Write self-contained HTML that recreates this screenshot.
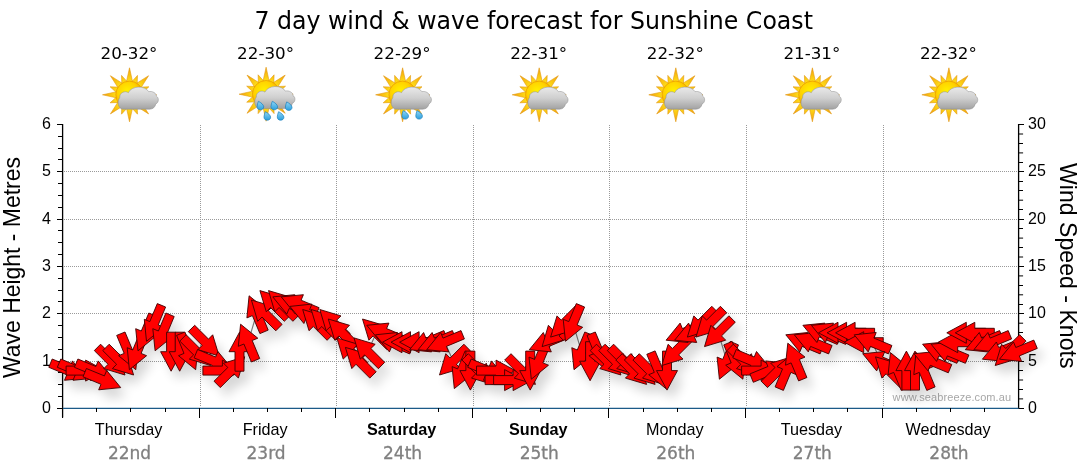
<!DOCTYPE html>
<html><head><meta charset="utf-8"><title>7 day wind &amp; wave forecast for Sunshine Coast</title>
<style>html,body{margin:0;padding:0;background:#fff}svg{display:block}text{font-family:"Liberation Sans",sans-serif;fill:#000}.tah{font-family:"DejaVu Sans Condensed","DejaVu Sans","Liberation Sans",sans-serif}.ver{font-family:"DejaVu Sans","Liberation Sans",sans-serif}</style></head><body>
<svg width="1080" height="475" viewBox="0 0 1080 475">
<defs>
<filter id="sh" x="-5%" y="-20%" width="110%" height="150%"><feGaussianBlur in="SourceAlpha" stdDeviation="5.5"/><feOffset dx="6" dy="9"/><feComponentTransfer><feFuncA type="linear" slope="0.165"/></feComponentTransfer></filter>
<radialGradient id="sun" cx="0.42" cy="0.38" r="0.65"><stop offset="0" stop-color="#fff200"/><stop offset="0.55" stop-color="#ffd200"/><stop offset="1" stop-color="#f39a00"/></radialGradient>
<radialGradient id="ray" gradientUnits="userSpaceOnUse" cx="0" cy="0" r="27"><stop offset="0.45" stop-color="#ffe21a"/><stop offset="0.8" stop-color="#f8b90e"/><stop offset="1" stop-color="#ee9410"/></radialGradient>
<linearGradient id="cl" x1="0" y1="0" x2="0" y2="1"><stop offset="0" stop-color="#e9e9e9"/><stop offset="0.5" stop-color="#cfcfcf"/><stop offset="1" stop-color="#a2a2a2"/></linearGradient>
<linearGradient id="dr" x1="0" y1="0" x2="0" y2="1"><stop offset="0" stop-color="#8fd6f7"/><stop offset="1" stop-color="#2c9fdc"/></linearGradient>
<g id="suncloud">
<path d="M-3.4,-11.5L0.0,-27.0L3.4,-11.5ZM1.2,-11.9L8.0,-19.4L7.6,-9.3ZM5.7,-10.6L19.1,-19.1L10.6,-5.7ZM9.3,-7.6L19.4,-8.0L11.9,-1.2ZM11.5,-3.4L27.0,0.0L11.5,3.4ZM11.9,1.2L19.4,8.0L9.3,7.6ZM10.6,5.7L19.1,19.1L5.7,10.6ZM7.6,9.3L8.0,19.4L1.2,11.9ZM3.4,11.5L0.0,27.0L-3.4,11.5ZM-1.2,11.9L-8.0,19.4L-7.6,9.3ZM-5.7,10.6L-19.1,19.1L-10.6,5.7ZM-9.3,7.6L-19.4,8.0L-11.9,1.2ZM-11.5,3.4L-27.0,0.0L-11.5,-3.4ZM-11.9,-1.2L-19.4,-8.0L-9.3,-7.6ZM-10.6,-5.7L-19.1,-19.1L-5.7,-10.6ZM-7.6,-9.3L-8.0,-19.4L-1.2,-11.9Z" fill="url(#ray)" stroke="#e39a12" stroke-width="0.6" stroke-linejoin="round"/>
<circle cx="0" cy="0" r="13.7" fill="url(#sun)" stroke="#e99a00" stroke-width="0.7"/>
<path id="cloudp" transform="translate(-0.3,-0.6)" d="M-6.5,15 C-11,14.5 -12.5,7 -9.5,3.5 C-10,-1.5 -4,-4 -0.8,-1.5 C2,-8.5 16,-9 19.5,-2.5 C23,-3.5 27.5,-1 27.2,2 C30,3.5 29.8,8.5 26.5,9.8 C26,13 23.5,15 20.5,15 Z" fill="url(#cl)" stroke="#8d8d8d" stroke-width="0.5"/>
</g>
<path id="drop" d="M-2,-4 C0.6,-2.8 3.3,-0.4 3.3,1.5 C3.3,3.4 1.8,4.5 0,4.5 C-2,4.5 -3.4,3.2 -3.3,1.2 C-3.2,-0.5 -2.7,-2.3 -2,-4Z" fill="url(#dr)" stroke="#1a7fbd" stroke-width="0.7"/>
</defs>
<rect width="1080" height="475" fill="#fff"/>
<text class="tah" x="254.4" y="29.3" font-size="25.5" textLength="558.5" lengthAdjust="spacingAndGlyphs">7 day wind &amp; wave forecast for Sunshine Coast</text>
<text class="ver" x="100.5" y="59" font-size="15.8" textLength="57" lengthAdjust="spacingAndGlyphs">20-32°</text>
<use href="#suncloud" x="129.5" y="94.8"/>
<text class="ver" x="237.1" y="59" font-size="15.8" textLength="57" lengthAdjust="spacingAndGlyphs">22-30°</text>
<use href="#suncloud" x="266.1" y="94.2"/>
<use href="#drop" x="260.4" y="105.3"/>
<use href="#drop" x="274.3" y="105.3"/>
<use href="#drop" x="288.7" y="105.9"/>
<use href="#drop" x="267.3" y="115.7"/>
<use href="#drop" x="280.6" y="115.7"/>
<text class="ver" x="373.6" y="59" font-size="15.8" textLength="57" lengthAdjust="spacingAndGlyphs">22-29°</text>
<use href="#suncloud" x="402.6" y="94.8"/>
<use href="#drop" x="405.2" y="114.6"/>
<use href="#drop" x="419.1" y="114.6"/>
<text class="ver" x="510.2" y="59" font-size="15.8" textLength="57" lengthAdjust="spacingAndGlyphs">22-31°</text>
<use href="#suncloud" x="539.2" y="94.8"/>
<text class="ver" x="646.8" y="59" font-size="15.8" textLength="57" lengthAdjust="spacingAndGlyphs">22-32°</text>
<use href="#suncloud" x="675.8" y="94.8"/>
<text class="ver" x="783.4" y="59" font-size="15.8" textLength="57" lengthAdjust="spacingAndGlyphs">21-31°</text>
<use href="#suncloud" x="812.4" y="94.8"/>
<text class="ver" x="919.9" y="59" font-size="15.8" textLength="57" lengthAdjust="spacingAndGlyphs">22-32°</text>
<use href="#suncloud" x="948.9" y="94.8"/>
<path d="M63.6,361.5H1016.6M63.6,313.5H1016.6M63.6,266.5H1016.6M63.6,219.5H1016.6M63.6,171.5H1016.6M200.5,124.5V407.4M336.5,124.5V407.4M473.5,124.5V407.4M609.5,124.5V407.4M746.5,124.5V407.4M883.5,124.5V407.4" stroke="#9a9a9a" stroke-width="1" stroke-dasharray="1,1" fill="none" shape-rendering="crispEdges"/>
<path d="M62.6,124.0V417.6" stroke="#000" stroke-width="1.3" fill="none"/>
<path d="M1018.6,124.0V408.9" stroke="#000" stroke-width="1.3" fill="none"/>
<path d="M56.6,408.5H62.6M58.1,396.5H62.6M58.1,384.5H62.6M58.1,372.5H62.6M56.6,361.5H62.6M58.1,349.5H62.6M58.1,337.5H62.6M58.1,325.5H62.6M56.6,313.5H62.6M58.1,301.5H62.6M58.1,290.5H62.6M58.1,278.5H62.6M56.6,266.5H62.6M58.1,254.5H62.6M58.1,242.5H62.6M58.1,230.5H62.6M56.6,219.5H62.6M58.1,207.5H62.6M58.1,195.5H62.6M58.1,183.5H62.6M56.6,171.5H62.6M58.1,159.5H62.6M58.1,148.5H62.6M58.1,136.5H62.6M56.6,124.5H62.6" stroke="#000" stroke-width="1" fill="none" shape-rendering="crispEdges"/>
<path d="M1018.6,408.5H1023.9M1018.6,389.5H1023.1M1018.6,370.5H1023.1M1018.6,361.5H1023.9M1018.6,351.5H1023.1M1018.6,332.5H1023.1M1018.6,313.5H1023.9M1018.6,304.5H1023.1M1018.6,285.5H1023.1M1018.6,266.5H1023.9M1018.6,247.5H1023.1M1018.6,228.5H1023.1M1018.6,219.5H1023.9M1018.6,209.5H1023.1M1018.6,190.5H1023.1M1018.6,181.5H1023.1M1018.6,171.5H1023.9M1018.6,162.5H1023.1M1018.6,143.5H1023.1M1018.6,124.5H1023.9" stroke="#000" stroke-width="1" fill="none" shape-rendering="crispEdges"/>
<path d="M1018.6,398.9H1023.1M1018.6,380.0H1023.1M1018.6,342.2H1023.1M1018.6,323.2H1023.1M1018.6,294.8H1023.1M1018.6,275.9H1023.1M1018.6,257.0H1023.1M1018.6,238.1H1023.1M1018.6,200.2H1023.1M1018.6,152.9H1023.1M1018.6,134.0H1023.1" stroke="#000" stroke-width="1" fill="none"/>
<path d="M62.6,408.4H1018.6" stroke="#1b5a88" stroke-width="1.25" fill="none"/>
<path d="M62.5,408.4V417.6M96.5,408.4V412.4M130.5,408.4V412.4M165.5,408.4V412.4M199.5,408.4V417.6M233.5,408.4V412.4M267.5,408.4V412.4M301.5,408.4V412.4M335.5,408.4V417.6M369.5,408.4V412.4M404.5,408.4V412.4M438.5,408.4V412.4M472.5,408.4V417.6M506.5,408.4V412.4M540.5,408.4V412.4M574.5,408.4V412.4M608.5,408.4V417.6M643.5,408.4V412.4M677.5,408.4V412.4M711.5,408.4V412.4M745.5,408.4V417.6M779.5,408.4V412.4M813.5,408.4V412.4M847.5,408.4V412.4M882.5,408.4V417.6M916.5,408.4V412.4M950.5,408.4V412.4M984.5,408.4V412.4" stroke="#000" stroke-width="1" fill="none" shape-rendering="crispEdges"/>
<text x="51" y="413.0" font-size="16" text-anchor="end">0</text>
<text x="51" y="365.7" font-size="16" text-anchor="end">1</text>
<text x="51" y="318.4" font-size="16" text-anchor="end">2</text>
<text x="51" y="271.1" font-size="16" text-anchor="end">3</text>
<text x="51" y="223.7" font-size="16" text-anchor="end">4</text>
<text x="51" y="176.4" font-size="16" text-anchor="end">5</text>
<text x="51" y="129.1" font-size="16" text-anchor="end">6</text>
<text x="1028" y="413.0" font-size="16">0</text>
<text x="1028" y="365.7" font-size="16">5</text>
<text x="1028" y="318.4" font-size="16">10</text>
<text x="1028" y="271.1" font-size="16">15</text>
<text x="1028" y="223.7" font-size="16">20</text>
<text x="1028" y="176.4" font-size="16">25</text>
<text x="1028" y="129.1" font-size="16">30</text>
<text transform="translate(20.2,378) rotate(-90)" font-size="24" textLength="221" lengthAdjust="spacingAndGlyphs">Wave Height - Metres</text>
<text transform="translate(1059.6,163) rotate(90)" font-size="24" textLength="205.5" lengthAdjust="spacingAndGlyphs">Wind Speed - Knots</text>
<text x="128.6" y="435.3" font-size="16.2" text-anchor="middle">Thursday</text>
<text class="ver" x="129.5" y="459.1" font-size="17" text-anchor="middle" style="fill:#808080;stroke:#808080;stroke-width:0.3">22nd</text>
<text x="265.2" y="435.3" font-size="16.2" text-anchor="middle">Friday</text>
<text class="ver" x="266.1" y="459.1" font-size="17" text-anchor="middle" style="fill:#808080;stroke:#808080;stroke-width:0.3">23rd</text>
<text x="401.7" y="435.3" font-size="16.2" text-anchor="middle" font-weight="bold">Saturday</text>
<text class="ver" x="402.6" y="459.1" font-size="17" text-anchor="middle" style="fill:#808080;stroke:#808080;stroke-width:0.3">24th</text>
<text x="538.3" y="435.3" font-size="16.2" text-anchor="middle" font-weight="bold">Sunday</text>
<text class="ver" x="539.2" y="459.1" font-size="17" text-anchor="middle" style="fill:#808080;stroke:#808080;stroke-width:0.3">25th</text>
<text x="674.9" y="435.3" font-size="16.2" text-anchor="middle">Monday</text>
<text class="ver" x="675.8" y="459.1" font-size="17" text-anchor="middle" style="fill:#808080;stroke:#808080;stroke-width:0.3">26th</text>
<text x="811.4" y="435.3" font-size="16.2" text-anchor="middle">Tuesday</text>
<text class="ver" x="812.3" y="459.1" font-size="17" text-anchor="middle" style="fill:#808080;stroke:#808080;stroke-width:0.3">27th</text>
<text x="948.0" y="435.3" font-size="16.2" text-anchor="middle">Wednesday</text>
<text class="ver" x="948.9" y="459.1" font-size="17" text-anchor="middle" style="fill:#808080;stroke:#808080;stroke-width:0.3">28th</text>
<text x="892.6" y="400.6" font-size="11" textLength="118.5" lengthAdjust="spacing" style="fill:#a8a8a8">www.seabreeze.com.au</text>
<polyline points="68.5,370.6 77.0,370.6 85.6,370.6 94.2,370.6 102.7,380.1 111.2,361.2 119.8,361.2 128.4,351.7 136.9,351.7 145.4,332.8 154.0,323.3 162.6,332.8 171.1,351.7 179.7,351.7 188.2,351.7 196.8,351.7 205.3,342.2 213.9,361.2 222.4,370.6 231.0,370.6 239.5,351.7 248.1,342.2 256.6,313.8 265.1,313.8 273.7,304.4 282.2,304.4 290.8,304.4 299.4,304.4 307.9,313.8 316.5,323.3 325.0,323.3 333.6,323.3 342.1,332.8 350.7,351.7 359.2,361.2 367.8,351.7 376.3,332.8 384.9,332.8 393.4,342.2 402.0,342.2 410.5,342.2 419.1,342.2 427.6,342.2 436.2,342.2 444.7,342.2 453.3,361.2 461.8,370.6 470.4,370.6 478.9,370.6 487.5,370.6 496.0,370.6 504.6,380.1 513.1,380.1 521.7,370.6 530.2,370.6 538.8,361.2 547.3,342.2 555.9,332.8 564.4,323.3 573.0,323.3 581.5,351.7 590.1,361.2 598.6,351.7 607.2,361.2 615.7,361.2 624.2,361.2 632.8,370.6 641.4,370.6 649.9,370.6 658.5,370.6 667.0,370.6 675.6,351.7 684.1,332.8 692.7,332.8 701.2,323.3 709.8,323.3 718.3,332.8 726.9,361.2 735.4,361.2 744.0,361.2 752.5,361.2 761.1,370.6 769.6,370.6 778.2,370.6 786.7,370.6 795.3,361.2 803.8,342.2 812.4,342.2 820.9,332.8 829.5,332.8 838.0,332.8 846.6,332.8 855.1,332.8 863.7,342.2 872.2,342.2 880.8,361.2 889.3,370.6 897.9,370.6 906.4,370.6 915.0,370.6 923.5,370.6 932.1,361.2 940.6,351.7 949.2,351.7 957.7,342.2 966.3,332.8 974.8,332.8 983.4,342.2 991.9,342.2 1000.5,351.7 1009.0,351.7 1017.6,351.7" fill="none" stroke="#7c7c7c" stroke-width="1.15"/>
<g filter="url(#sh)" fill="#000"><polygon points="52.2,359.0 70.2,366.5 72.5,360.9 86.5,378.1 64.5,380.3 66.8,374.8 48.8,367.3"/><polygon points="60.8,359.0 78.8,366.5 81.1,360.9 95.1,378.1 73.0,380.3 75.3,374.8 57.3,367.3"/><polygon points="66.1,366.1 85.6,366.1 85.6,360.1 105.1,370.6 85.6,381.1 85.6,375.1 66.1,375.1"/><polygon points="77.9,359.0 95.9,366.5 98.2,360.9 112.2,378.1 90.1,380.3 92.4,374.8 74.4,367.3"/><polygon points="86.4,368.5 104.4,375.9 106.7,370.4 120.7,387.6 98.7,389.8 101.0,384.3 83.0,376.8"/><polygon points="100.6,344.2 114.4,358.0 118.7,353.7 125.0,375.0 103.8,368.6 108.1,364.3 94.3,350.6"/><polygon points="109.2,344.2 123.0,358.0 127.2,353.7 133.6,375.0 112.4,368.6 116.6,364.3 102.8,350.6"/><polygon points="125.0,332.0 132.5,350.0 138.1,347.7 135.8,369.7 118.6,355.7 124.2,353.4 116.7,335.4"/><polygon points="148.5,335.4 141.1,353.4 146.6,355.7 129.4,369.7 127.2,347.7 132.7,350.0 140.2,332.0"/><polygon points="157.1,316.5 149.6,334.5 155.2,336.8 138.0,350.8 135.7,328.7 141.3,331.0 148.8,313.0"/><polygon points="165.6,307.0 158.2,325.0 163.7,327.3 146.5,341.3 144.3,319.3 149.8,321.6 157.3,303.6"/><polygon points="174.2,316.5 166.7,334.5 172.3,336.8 155.1,350.8 152.8,328.7 158.4,331.0 165.9,313.0"/><polygon points="175.6,332.2 175.6,351.7 181.6,351.7 171.1,371.2 160.6,351.7 166.6,351.7 166.6,332.2"/><polygon points="184.2,332.2 184.2,351.7 190.2,351.7 179.7,371.2 169.2,351.7 175.2,351.7 175.2,332.2"/><polygon points="184.9,332.0 192.4,350.0 197.9,347.7 195.7,369.7 178.5,355.7 184.0,353.4 176.6,335.4"/><polygon points="186.1,334.7 199.9,348.5 204.2,344.3 210.5,365.5 189.3,359.1 193.6,354.9 179.8,341.1"/><polygon points="194.7,325.3 208.5,339.1 212.7,334.8 219.1,356.0 197.9,349.7 202.1,345.4 188.3,331.6"/><polygon points="197.6,349.5 215.6,357.0 217.9,351.5 231.9,368.6 209.8,370.9 212.1,365.3 194.1,357.9"/><polygon points="202.9,366.1 222.4,366.1 222.4,360.1 241.9,370.6 222.4,381.1 222.4,375.1 202.9,375.1"/><polygon points="214.0,381.2 227.8,367.5 223.5,363.2 244.7,356.8 238.4,378.1 234.1,373.8 220.3,387.6"/><polygon points="235.0,371.2 235.0,351.7 229.0,351.7 239.5,332.2 250.0,351.7 244.0,351.7 244.0,371.2"/><polygon points="251.4,362.0 243.9,344.0 238.3,346.3 240.6,324.2 257.8,338.2 252.2,340.5 259.7,358.5"/><polygon points="259.9,333.6 252.4,315.6 246.9,317.9 249.1,295.8 266.3,309.8 260.8,312.1 268.2,330.1"/><polygon points="275.8,330.8 262.0,317.0 257.7,321.3 251.4,300.0 272.6,306.4 268.3,310.7 282.1,324.4"/><polygon points="284.3,321.3 270.5,307.5 266.3,311.8 259.9,290.6 281.1,296.9 276.9,301.2 290.7,315.0"/><polygon points="292.9,321.3 279.1,307.5 274.8,311.8 268.5,290.6 289.7,296.9 285.4,301.2 299.2,315.0"/><polygon points="307.1,316.0 289.1,308.5 286.8,314.1 272.8,296.9 294.8,294.7 292.5,300.2 310.5,307.7"/><polygon points="315.6,316.0 297.6,308.5 295.3,314.1 281.3,296.9 303.4,294.7 301.1,300.2 319.1,307.7"/><polygon points="324.2,325.5 306.2,318.0 303.9,323.5 289.9,306.4 311.9,304.1 309.6,309.7 327.6,317.1"/><polygon points="327.1,340.3 313.3,326.5 309.0,330.7 302.7,309.5 323.9,315.9 319.6,320.1 333.4,333.9"/><polygon points="335.6,340.3 321.8,326.5 317.6,330.7 311.2,309.5 332.4,315.9 328.2,320.1 342.0,333.9"/><polygon points="344.2,340.3 330.4,326.5 326.1,330.7 319.8,309.5 341.0,315.9 336.7,320.1 350.5,333.9"/><polygon points="352.7,349.7 338.9,335.9 334.7,340.2 328.3,319.0 349.5,325.3 345.3,329.6 359.1,343.4"/><polygon points="361.3,368.7 347.5,354.9 343.2,359.1 336.9,337.9 358.1,344.3 353.8,348.5 367.6,362.3"/><polygon points="369.8,378.1 356.0,364.3 351.8,368.6 345.4,347.4 366.6,353.7 362.4,358.0 376.2,371.8"/><polygon points="378.4,368.7 364.6,354.9 360.3,359.1 354.0,337.9 375.2,344.3 370.9,348.5 384.7,362.3"/><polygon points="386.9,349.7 373.1,335.9 368.9,340.2 362.5,319.0 383.7,325.3 379.5,329.6 393.3,343.4"/><polygon points="401.1,344.4 383.1,336.9 380.8,342.5 366.8,325.3 388.9,323.1 386.6,328.6 404.6,336.1"/><polygon points="409.7,353.9 391.7,346.4 389.4,351.9 375.4,334.8 397.4,332.5 395.1,338.1 413.1,345.5"/><polygon points="421.5,346.7 402.0,346.7 402.0,352.7 382.5,342.2 402.0,331.7 402.0,337.7 421.5,337.7"/><polygon points="430.0,346.7 410.5,346.7 410.5,352.7 391.0,342.2 410.5,331.7 410.5,337.7 430.0,337.7"/><polygon points="438.6,346.7 419.1,346.7 419.1,352.7 399.6,342.2 419.1,331.7 419.1,337.7 438.6,337.7"/><polygon points="447.3,338.9 429.3,346.4 431.6,351.9 409.6,349.7 423.6,332.5 425.9,338.1 443.9,330.6"/><polygon points="455.9,338.9 437.9,346.4 440.2,351.9 418.1,349.7 432.1,332.5 434.4,338.1 452.4,330.6"/><polygon points="464.4,338.9 446.4,346.4 448.7,351.9 426.7,349.7 440.7,332.5 443.0,338.1 461.0,330.6"/><polygon points="470.2,350.6 456.4,364.3 460.7,368.6 439.5,375.0 445.8,353.7 450.1,358.0 463.9,344.2"/><polygon points="473.4,354.3 466.0,372.4 471.5,374.7 454.3,388.6 452.1,366.6 457.6,368.9 465.1,350.9"/><polygon points="474.9,351.1 474.9,370.6 480.9,370.6 470.4,390.1 459.9,370.6 465.9,370.6 465.9,351.1"/><polygon points="468.3,353.7 482.1,367.5 486.3,363.2 492.7,384.4 471.5,378.1 475.7,373.8 461.9,360.0"/><polygon points="471.2,359.0 489.2,366.5 491.5,360.9 505.5,378.1 483.4,380.3 485.7,374.8 467.7,367.3"/><polygon points="476.5,366.1 496.0,366.1 496.0,360.1 515.5,370.6 496.0,381.1 496.0,375.1 476.5,375.1"/><polygon points="485.1,375.6 504.6,375.6 504.6,369.6 524.0,380.1 504.6,390.6 504.6,384.6 485.1,384.6"/><polygon points="493.6,375.6 513.1,375.6 513.1,369.6 532.6,380.1 513.1,390.6 513.1,384.6 493.6,384.6"/><polygon points="511.0,353.7 524.8,367.5 529.1,363.2 535.4,384.4 514.2,378.1 518.5,373.8 504.7,360.0"/><polygon points="534.7,351.1 534.7,370.6 540.7,370.6 530.2,390.1 519.7,370.6 525.7,370.6 525.7,351.1"/><polygon points="550.4,344.9 542.9,362.9 548.5,365.2 531.3,379.2 529.0,357.1 534.6,359.4 542.1,341.4"/><polygon points="567.0,338.9 549.0,346.4 551.3,351.9 529.3,349.7 543.3,332.5 545.6,338.1 563.6,330.6"/><polygon points="572.8,322.2 559.0,335.9 563.3,340.2 542.1,346.6 548.4,325.3 552.7,329.6 566.5,315.8"/><polygon points="581.4,312.7 567.6,326.5 571.8,330.7 550.6,337.1 557.0,315.9 561.2,320.1 575.0,306.3"/><polygon points="584.6,307.0 577.1,325.0 582.7,327.3 565.5,341.3 563.2,319.3 568.8,321.6 576.3,303.6"/><polygon points="593.1,335.4 585.7,353.4 591.2,355.7 574.0,369.7 571.8,347.7 577.3,350.0 584.8,332.0"/><polygon points="594.6,341.7 594.6,361.2 600.6,361.2 590.1,380.7 579.6,361.2 585.6,361.2 585.6,341.7"/><polygon points="595.3,332.0 602.8,350.0 608.3,347.7 606.1,369.7 588.9,355.7 594.4,353.4 587.0,335.4"/><polygon points="596.5,344.2 610.3,358.0 614.6,353.7 620.9,375.0 599.7,368.6 604.0,364.3 590.2,350.6"/><polygon points="605.1,344.2 618.9,358.0 623.1,353.7 629.5,375.0 608.3,368.6 612.5,364.3 598.7,350.6"/><polygon points="613.6,344.2 627.4,358.0 631.7,353.7 638.0,375.0 616.8,368.6 621.1,364.3 607.3,350.6"/><polygon points="622.2,353.7 636.0,367.5 640.2,363.2 646.6,384.4 625.4,378.1 629.6,373.8 615.8,360.0"/><polygon points="630.7,353.7 644.5,367.5 648.8,363.2 655.1,384.4 633.9,378.1 638.2,373.8 624.4,360.0"/><polygon points="639.3,353.7 653.1,367.5 657.3,363.2 663.7,384.4 642.5,378.1 646.7,373.8 632.9,360.0"/><polygon points="655.1,350.9 662.6,368.9 668.2,366.6 665.9,388.6 648.7,374.7 654.3,372.4 646.8,354.3"/><polygon points="671.5,351.1 671.5,370.6 677.5,370.6 667.0,390.1 656.5,370.6 662.5,370.6 662.5,351.1"/><polygon points="692.5,341.1 678.7,354.9 683.0,359.1 661.8,365.5 668.1,344.3 672.4,348.5 686.2,334.7"/><polygon points="703.8,329.5 685.8,336.9 688.1,342.5 666.1,340.2 680.1,323.1 682.4,328.6 700.4,321.1"/><polygon points="712.4,329.5 694.4,336.9 696.7,342.5 674.6,340.2 688.6,323.1 690.9,328.6 708.9,321.1"/><polygon points="718.2,312.7 704.4,326.5 708.6,330.7 687.4,337.1 693.8,315.9 698.0,320.1 711.8,306.3"/><polygon points="726.7,312.7 712.9,326.5 717.2,330.7 696.0,337.1 702.3,315.9 706.6,320.1 720.4,306.3"/><polygon points="735.3,322.2 721.5,335.9 725.7,340.2 704.5,346.6 710.9,325.3 715.1,329.6 728.9,315.8"/><polygon points="738.5,344.9 731.0,362.9 736.6,365.2 719.4,379.2 717.1,357.1 722.7,359.4 730.2,341.4"/><polygon points="732.1,341.4 739.6,359.4 745.1,357.1 742.9,379.2 725.7,365.2 731.2,362.9 723.8,344.9"/><polygon points="733.3,344.2 747.1,358.0 751.4,353.7 757.7,375.0 736.5,368.6 740.8,364.3 727.0,350.6"/><polygon points="736.2,349.5 754.2,357.0 756.5,351.5 770.5,368.6 748.5,370.9 750.8,365.3 732.8,357.9"/><polygon points="741.6,366.1 761.1,366.1 761.1,360.1 780.6,370.6 761.1,381.1 761.1,375.1 741.6,375.1"/><polygon points="749.9,373.9 767.9,366.5 765.6,360.9 787.6,363.2 773.6,380.3 771.3,374.8 753.3,382.3"/><polygon points="761.2,381.2 775.0,367.5 770.7,363.2 791.9,356.8 785.6,378.1 781.3,373.8 767.5,387.6"/><polygon points="775.1,386.9 782.5,368.9 777.0,366.6 794.2,352.6 796.4,374.7 790.9,372.4 783.4,390.4"/><polygon points="798.6,380.9 791.1,362.9 785.5,365.2 787.8,343.2 805.0,357.1 799.4,359.4 806.9,377.5"/><polygon points="820.1,353.9 802.1,346.4 799.8,351.9 785.8,334.8 807.8,332.5 805.5,338.1 823.5,345.5"/><polygon points="828.6,353.9 810.6,346.4 808.3,351.9 794.3,334.8 816.4,332.5 814.1,338.1 832.1,345.5"/><polygon points="837.2,344.4 819.2,336.9 816.9,342.5 802.9,325.3 824.9,323.1 822.6,328.6 840.6,336.1"/><polygon points="845.7,344.4 827.7,336.9 825.4,342.5 811.4,325.3 833.5,323.1 831.2,328.6 849.2,336.1"/><polygon points="857.5,337.3 838.0,337.3 838.0,343.3 818.5,332.8 838.0,322.3 838.0,328.3 857.5,328.3"/><polygon points="866.1,337.3 846.6,337.3 846.6,343.3 827.1,332.8 846.6,322.3 846.6,328.3 866.1,328.3"/><polygon points="874.6,337.3 855.1,337.3 855.1,343.3 835.6,332.8 855.1,322.3 855.1,328.3 874.6,328.3"/><polygon points="883.2,346.7 863.7,346.7 863.7,352.7 844.2,342.2 863.7,331.7 863.7,337.7 883.2,337.7"/><polygon points="888.5,353.9 870.5,346.4 868.2,351.9 854.2,334.8 876.2,332.5 873.9,338.1 891.9,345.5"/><polygon points="897.0,372.8 879.0,365.3 876.7,370.9 862.7,353.7 884.8,351.5 882.5,357.0 900.5,364.5"/><polygon points="899.9,387.6 886.1,373.8 881.9,378.1 875.5,356.8 896.7,363.2 892.5,367.5 906.3,381.2"/><polygon points="901.2,390.4 893.7,372.4 888.1,374.7 890.4,352.6 907.6,366.6 902.0,368.9 909.5,386.9"/><polygon points="901.9,390.1 901.9,370.6 895.9,370.6 906.4,351.1 916.9,370.6 910.9,370.6 910.9,390.1"/><polygon points="910.5,390.1 910.5,370.6 904.5,370.6 915.0,351.1 925.5,370.6 919.5,370.6 919.5,390.1"/><polygon points="926.8,390.4 919.3,372.4 913.8,374.7 916.0,352.6 933.2,366.6 927.7,368.9 935.1,386.9"/><polygon points="948.3,372.8 930.3,365.3 928.0,370.9 914.0,353.7 936.1,351.5 933.8,357.0 951.8,364.5"/><polygon points="956.9,363.3 938.9,355.9 936.6,361.4 922.6,344.2 944.6,342.0 942.3,347.5 960.3,355.0"/><polygon points="965.4,363.3 947.4,355.9 945.1,361.4 931.1,344.2 953.2,342.0 950.9,347.5 968.9,355.0"/><polygon points="977.2,346.7 957.7,346.7 957.7,352.7 938.2,342.2 957.7,331.7 957.7,337.7 977.2,337.7"/><polygon points="985.8,337.3 966.3,337.3 966.3,343.3 946.8,332.8 966.3,322.3 966.3,328.3 985.8,328.3"/><polygon points="994.3,337.3 974.8,337.3 974.8,343.3 955.3,332.8 974.8,322.3 974.8,328.3 994.3,328.3"/><polygon points="1003.1,338.9 985.1,346.4 987.4,351.9 965.3,349.7 979.3,332.5 981.6,338.1 999.6,330.6"/><polygon points="1011.6,338.9 993.6,346.4 995.9,351.9 973.9,349.7 987.9,332.5 990.2,338.1 1008.2,330.6"/><polygon points="1020.2,348.4 1002.2,355.9 1004.5,361.4 982.4,359.2 996.4,342.0 998.7,347.5 1016.7,340.1"/><polygon points="1026.0,341.1 1012.2,354.9 1016.4,359.1 995.2,365.5 1001.6,344.3 1005.8,348.5 1019.6,334.7"/><polygon points="1037.3,348.4 1019.3,355.9 1021.6,361.4 999.5,359.2 1013.5,342.0 1015.8,347.5 1033.8,340.1"/></g>
<g fill="#ff0000" stroke="#400000" stroke-width="0.9" stroke-linejoin="miter"><polygon points="52.2,359.0 70.2,366.5 72.5,360.9 86.5,378.1 64.5,380.3 66.8,374.8 48.8,367.3"/><polygon points="60.8,359.0 78.8,366.5 81.1,360.9 95.1,378.1 73.0,380.3 75.3,374.8 57.3,367.3"/><polygon points="66.1,366.1 85.6,366.1 85.6,360.1 105.1,370.6 85.6,381.1 85.6,375.1 66.1,375.1"/><polygon points="77.9,359.0 95.9,366.5 98.2,360.9 112.2,378.1 90.1,380.3 92.4,374.8 74.4,367.3"/><polygon points="86.4,368.5 104.4,375.9 106.7,370.4 120.7,387.6 98.7,389.8 101.0,384.3 83.0,376.8"/><polygon points="100.6,344.2 114.4,358.0 118.7,353.7 125.0,375.0 103.8,368.6 108.1,364.3 94.3,350.6"/><polygon points="109.2,344.2 123.0,358.0 127.2,353.7 133.6,375.0 112.4,368.6 116.6,364.3 102.8,350.6"/><polygon points="125.0,332.0 132.5,350.0 138.1,347.7 135.8,369.7 118.6,355.7 124.2,353.4 116.7,335.4"/><polygon points="148.5,335.4 141.1,353.4 146.6,355.7 129.4,369.7 127.2,347.7 132.7,350.0 140.2,332.0"/><polygon points="157.1,316.5 149.6,334.5 155.2,336.8 138.0,350.8 135.7,328.7 141.3,331.0 148.8,313.0"/><polygon points="165.6,307.0 158.2,325.0 163.7,327.3 146.5,341.3 144.3,319.3 149.8,321.6 157.3,303.6"/><polygon points="174.2,316.5 166.7,334.5 172.3,336.8 155.1,350.8 152.8,328.7 158.4,331.0 165.9,313.0"/><polygon points="175.6,332.2 175.6,351.7 181.6,351.7 171.1,371.2 160.6,351.7 166.6,351.7 166.6,332.2"/><polygon points="184.2,332.2 184.2,351.7 190.2,351.7 179.7,371.2 169.2,351.7 175.2,351.7 175.2,332.2"/><polygon points="184.9,332.0 192.4,350.0 197.9,347.7 195.7,369.7 178.5,355.7 184.0,353.4 176.6,335.4"/><polygon points="186.1,334.7 199.9,348.5 204.2,344.3 210.5,365.5 189.3,359.1 193.6,354.9 179.8,341.1"/><polygon points="194.7,325.3 208.5,339.1 212.7,334.8 219.1,356.0 197.9,349.7 202.1,345.4 188.3,331.6"/><polygon points="197.6,349.5 215.6,357.0 217.9,351.5 231.9,368.6 209.8,370.9 212.1,365.3 194.1,357.9"/><polygon points="202.9,366.1 222.4,366.1 222.4,360.1 241.9,370.6 222.4,381.1 222.4,375.1 202.9,375.1"/><polygon points="214.0,381.2 227.8,367.5 223.5,363.2 244.7,356.8 238.4,378.1 234.1,373.8 220.3,387.6"/><polygon points="235.0,371.2 235.0,351.7 229.0,351.7 239.5,332.2 250.0,351.7 244.0,351.7 244.0,371.2"/><polygon points="251.4,362.0 243.9,344.0 238.3,346.3 240.6,324.2 257.8,338.2 252.2,340.5 259.7,358.5"/><polygon points="259.9,333.6 252.4,315.6 246.9,317.9 249.1,295.8 266.3,309.8 260.8,312.1 268.2,330.1"/><polygon points="275.8,330.8 262.0,317.0 257.7,321.3 251.4,300.0 272.6,306.4 268.3,310.7 282.1,324.4"/><polygon points="284.3,321.3 270.5,307.5 266.3,311.8 259.9,290.6 281.1,296.9 276.9,301.2 290.7,315.0"/><polygon points="292.9,321.3 279.1,307.5 274.8,311.8 268.5,290.6 289.7,296.9 285.4,301.2 299.2,315.0"/><polygon points="307.1,316.0 289.1,308.5 286.8,314.1 272.8,296.9 294.8,294.7 292.5,300.2 310.5,307.7"/><polygon points="315.6,316.0 297.6,308.5 295.3,314.1 281.3,296.9 303.4,294.7 301.1,300.2 319.1,307.7"/><polygon points="324.2,325.5 306.2,318.0 303.9,323.5 289.9,306.4 311.9,304.1 309.6,309.7 327.6,317.1"/><polygon points="327.1,340.3 313.3,326.5 309.0,330.7 302.7,309.5 323.9,315.9 319.6,320.1 333.4,333.9"/><polygon points="335.6,340.3 321.8,326.5 317.6,330.7 311.2,309.5 332.4,315.9 328.2,320.1 342.0,333.9"/><polygon points="344.2,340.3 330.4,326.5 326.1,330.7 319.8,309.5 341.0,315.9 336.7,320.1 350.5,333.9"/><polygon points="352.7,349.7 338.9,335.9 334.7,340.2 328.3,319.0 349.5,325.3 345.3,329.6 359.1,343.4"/><polygon points="361.3,368.7 347.5,354.9 343.2,359.1 336.9,337.9 358.1,344.3 353.8,348.5 367.6,362.3"/><polygon points="369.8,378.1 356.0,364.3 351.8,368.6 345.4,347.4 366.6,353.7 362.4,358.0 376.2,371.8"/><polygon points="378.4,368.7 364.6,354.9 360.3,359.1 354.0,337.9 375.2,344.3 370.9,348.5 384.7,362.3"/><polygon points="386.9,349.7 373.1,335.9 368.9,340.2 362.5,319.0 383.7,325.3 379.5,329.6 393.3,343.4"/><polygon points="401.1,344.4 383.1,336.9 380.8,342.5 366.8,325.3 388.9,323.1 386.6,328.6 404.6,336.1"/><polygon points="409.7,353.9 391.7,346.4 389.4,351.9 375.4,334.8 397.4,332.5 395.1,338.1 413.1,345.5"/><polygon points="421.5,346.7 402.0,346.7 402.0,352.7 382.5,342.2 402.0,331.7 402.0,337.7 421.5,337.7"/><polygon points="430.0,346.7 410.5,346.7 410.5,352.7 391.0,342.2 410.5,331.7 410.5,337.7 430.0,337.7"/><polygon points="438.6,346.7 419.1,346.7 419.1,352.7 399.6,342.2 419.1,331.7 419.1,337.7 438.6,337.7"/><polygon points="447.3,338.9 429.3,346.4 431.6,351.9 409.6,349.7 423.6,332.5 425.9,338.1 443.9,330.6"/><polygon points="455.9,338.9 437.9,346.4 440.2,351.9 418.1,349.7 432.1,332.5 434.4,338.1 452.4,330.6"/><polygon points="464.4,338.9 446.4,346.4 448.7,351.9 426.7,349.7 440.7,332.5 443.0,338.1 461.0,330.6"/><polygon points="470.2,350.6 456.4,364.3 460.7,368.6 439.5,375.0 445.8,353.7 450.1,358.0 463.9,344.2"/><polygon points="473.4,354.3 466.0,372.4 471.5,374.7 454.3,388.6 452.1,366.6 457.6,368.9 465.1,350.9"/><polygon points="474.9,351.1 474.9,370.6 480.9,370.6 470.4,390.1 459.9,370.6 465.9,370.6 465.9,351.1"/><polygon points="468.3,353.7 482.1,367.5 486.3,363.2 492.7,384.4 471.5,378.1 475.7,373.8 461.9,360.0"/><polygon points="471.2,359.0 489.2,366.5 491.5,360.9 505.5,378.1 483.4,380.3 485.7,374.8 467.7,367.3"/><polygon points="476.5,366.1 496.0,366.1 496.0,360.1 515.5,370.6 496.0,381.1 496.0,375.1 476.5,375.1"/><polygon points="485.1,375.6 504.6,375.6 504.6,369.6 524.0,380.1 504.6,390.6 504.6,384.6 485.1,384.6"/><polygon points="493.6,375.6 513.1,375.6 513.1,369.6 532.6,380.1 513.1,390.6 513.1,384.6 493.6,384.6"/><polygon points="511.0,353.7 524.8,367.5 529.1,363.2 535.4,384.4 514.2,378.1 518.5,373.8 504.7,360.0"/><polygon points="534.7,351.1 534.7,370.6 540.7,370.6 530.2,390.1 519.7,370.6 525.7,370.6 525.7,351.1"/><polygon points="550.4,344.9 542.9,362.9 548.5,365.2 531.3,379.2 529.0,357.1 534.6,359.4 542.1,341.4"/><polygon points="567.0,338.9 549.0,346.4 551.3,351.9 529.3,349.7 543.3,332.5 545.6,338.1 563.6,330.6"/><polygon points="572.8,322.2 559.0,335.9 563.3,340.2 542.1,346.6 548.4,325.3 552.7,329.6 566.5,315.8"/><polygon points="581.4,312.7 567.6,326.5 571.8,330.7 550.6,337.1 557.0,315.9 561.2,320.1 575.0,306.3"/><polygon points="584.6,307.0 577.1,325.0 582.7,327.3 565.5,341.3 563.2,319.3 568.8,321.6 576.3,303.6"/><polygon points="593.1,335.4 585.7,353.4 591.2,355.7 574.0,369.7 571.8,347.7 577.3,350.0 584.8,332.0"/><polygon points="594.6,341.7 594.6,361.2 600.6,361.2 590.1,380.7 579.6,361.2 585.6,361.2 585.6,341.7"/><polygon points="595.3,332.0 602.8,350.0 608.3,347.7 606.1,369.7 588.9,355.7 594.4,353.4 587.0,335.4"/><polygon points="596.5,344.2 610.3,358.0 614.6,353.7 620.9,375.0 599.7,368.6 604.0,364.3 590.2,350.6"/><polygon points="605.1,344.2 618.9,358.0 623.1,353.7 629.5,375.0 608.3,368.6 612.5,364.3 598.7,350.6"/><polygon points="613.6,344.2 627.4,358.0 631.7,353.7 638.0,375.0 616.8,368.6 621.1,364.3 607.3,350.6"/><polygon points="622.2,353.7 636.0,367.5 640.2,363.2 646.6,384.4 625.4,378.1 629.6,373.8 615.8,360.0"/><polygon points="630.7,353.7 644.5,367.5 648.8,363.2 655.1,384.4 633.9,378.1 638.2,373.8 624.4,360.0"/><polygon points="639.3,353.7 653.1,367.5 657.3,363.2 663.7,384.4 642.5,378.1 646.7,373.8 632.9,360.0"/><polygon points="655.1,350.9 662.6,368.9 668.2,366.6 665.9,388.6 648.7,374.7 654.3,372.4 646.8,354.3"/><polygon points="671.5,351.1 671.5,370.6 677.5,370.6 667.0,390.1 656.5,370.6 662.5,370.6 662.5,351.1"/><polygon points="692.5,341.1 678.7,354.9 683.0,359.1 661.8,365.5 668.1,344.3 672.4,348.5 686.2,334.7"/><polygon points="703.8,329.5 685.8,336.9 688.1,342.5 666.1,340.2 680.1,323.1 682.4,328.6 700.4,321.1"/><polygon points="712.4,329.5 694.4,336.9 696.7,342.5 674.6,340.2 688.6,323.1 690.9,328.6 708.9,321.1"/><polygon points="718.2,312.7 704.4,326.5 708.6,330.7 687.4,337.1 693.8,315.9 698.0,320.1 711.8,306.3"/><polygon points="726.7,312.7 712.9,326.5 717.2,330.7 696.0,337.1 702.3,315.9 706.6,320.1 720.4,306.3"/><polygon points="735.3,322.2 721.5,335.9 725.7,340.2 704.5,346.6 710.9,325.3 715.1,329.6 728.9,315.8"/><polygon points="738.5,344.9 731.0,362.9 736.6,365.2 719.4,379.2 717.1,357.1 722.7,359.4 730.2,341.4"/><polygon points="732.1,341.4 739.6,359.4 745.1,357.1 742.9,379.2 725.7,365.2 731.2,362.9 723.8,344.9"/><polygon points="733.3,344.2 747.1,358.0 751.4,353.7 757.7,375.0 736.5,368.6 740.8,364.3 727.0,350.6"/><polygon points="736.2,349.5 754.2,357.0 756.5,351.5 770.5,368.6 748.5,370.9 750.8,365.3 732.8,357.9"/><polygon points="741.6,366.1 761.1,366.1 761.1,360.1 780.6,370.6 761.1,381.1 761.1,375.1 741.6,375.1"/><polygon points="749.9,373.9 767.9,366.5 765.6,360.9 787.6,363.2 773.6,380.3 771.3,374.8 753.3,382.3"/><polygon points="761.2,381.2 775.0,367.5 770.7,363.2 791.9,356.8 785.6,378.1 781.3,373.8 767.5,387.6"/><polygon points="775.1,386.9 782.5,368.9 777.0,366.6 794.2,352.6 796.4,374.7 790.9,372.4 783.4,390.4"/><polygon points="798.6,380.9 791.1,362.9 785.5,365.2 787.8,343.2 805.0,357.1 799.4,359.4 806.9,377.5"/><polygon points="820.1,353.9 802.1,346.4 799.8,351.9 785.8,334.8 807.8,332.5 805.5,338.1 823.5,345.5"/><polygon points="828.6,353.9 810.6,346.4 808.3,351.9 794.3,334.8 816.4,332.5 814.1,338.1 832.1,345.5"/><polygon points="837.2,344.4 819.2,336.9 816.9,342.5 802.9,325.3 824.9,323.1 822.6,328.6 840.6,336.1"/><polygon points="845.7,344.4 827.7,336.9 825.4,342.5 811.4,325.3 833.5,323.1 831.2,328.6 849.2,336.1"/><polygon points="857.5,337.3 838.0,337.3 838.0,343.3 818.5,332.8 838.0,322.3 838.0,328.3 857.5,328.3"/><polygon points="866.1,337.3 846.6,337.3 846.6,343.3 827.1,332.8 846.6,322.3 846.6,328.3 866.1,328.3"/><polygon points="874.6,337.3 855.1,337.3 855.1,343.3 835.6,332.8 855.1,322.3 855.1,328.3 874.6,328.3"/><polygon points="883.2,346.7 863.7,346.7 863.7,352.7 844.2,342.2 863.7,331.7 863.7,337.7 883.2,337.7"/><polygon points="888.5,353.9 870.5,346.4 868.2,351.9 854.2,334.8 876.2,332.5 873.9,338.1 891.9,345.5"/><polygon points="897.0,372.8 879.0,365.3 876.7,370.9 862.7,353.7 884.8,351.5 882.5,357.0 900.5,364.5"/><polygon points="899.9,387.6 886.1,373.8 881.9,378.1 875.5,356.8 896.7,363.2 892.5,367.5 906.3,381.2"/><polygon points="901.2,390.4 893.7,372.4 888.1,374.7 890.4,352.6 907.6,366.6 902.0,368.9 909.5,386.9"/><polygon points="901.9,390.1 901.9,370.6 895.9,370.6 906.4,351.1 916.9,370.6 910.9,370.6 910.9,390.1"/><polygon points="910.5,390.1 910.5,370.6 904.5,370.6 915.0,351.1 925.5,370.6 919.5,370.6 919.5,390.1"/><polygon points="926.8,390.4 919.3,372.4 913.8,374.7 916.0,352.6 933.2,366.6 927.7,368.9 935.1,386.9"/><polygon points="948.3,372.8 930.3,365.3 928.0,370.9 914.0,353.7 936.1,351.5 933.8,357.0 951.8,364.5"/><polygon points="956.9,363.3 938.9,355.9 936.6,361.4 922.6,344.2 944.6,342.0 942.3,347.5 960.3,355.0"/><polygon points="965.4,363.3 947.4,355.9 945.1,361.4 931.1,344.2 953.2,342.0 950.9,347.5 968.9,355.0"/><polygon points="977.2,346.7 957.7,346.7 957.7,352.7 938.2,342.2 957.7,331.7 957.7,337.7 977.2,337.7"/><polygon points="985.8,337.3 966.3,337.3 966.3,343.3 946.8,332.8 966.3,322.3 966.3,328.3 985.8,328.3"/><polygon points="994.3,337.3 974.8,337.3 974.8,343.3 955.3,332.8 974.8,322.3 974.8,328.3 994.3,328.3"/><polygon points="1003.1,338.9 985.1,346.4 987.4,351.9 965.3,349.7 979.3,332.5 981.6,338.1 999.6,330.6"/><polygon points="1011.6,338.9 993.6,346.4 995.9,351.9 973.9,349.7 987.9,332.5 990.2,338.1 1008.2,330.6"/><polygon points="1020.2,348.4 1002.2,355.9 1004.5,361.4 982.4,359.2 996.4,342.0 998.7,347.5 1016.7,340.1"/><polygon points="1026.0,341.1 1012.2,354.9 1016.4,359.1 995.2,365.5 1001.6,344.3 1005.8,348.5 1019.6,334.7"/><polygon points="1037.3,348.4 1019.3,355.9 1021.6,361.4 999.5,359.2 1013.5,342.0 1015.8,347.5 1033.8,340.1"/></g>
</svg></body></html>
